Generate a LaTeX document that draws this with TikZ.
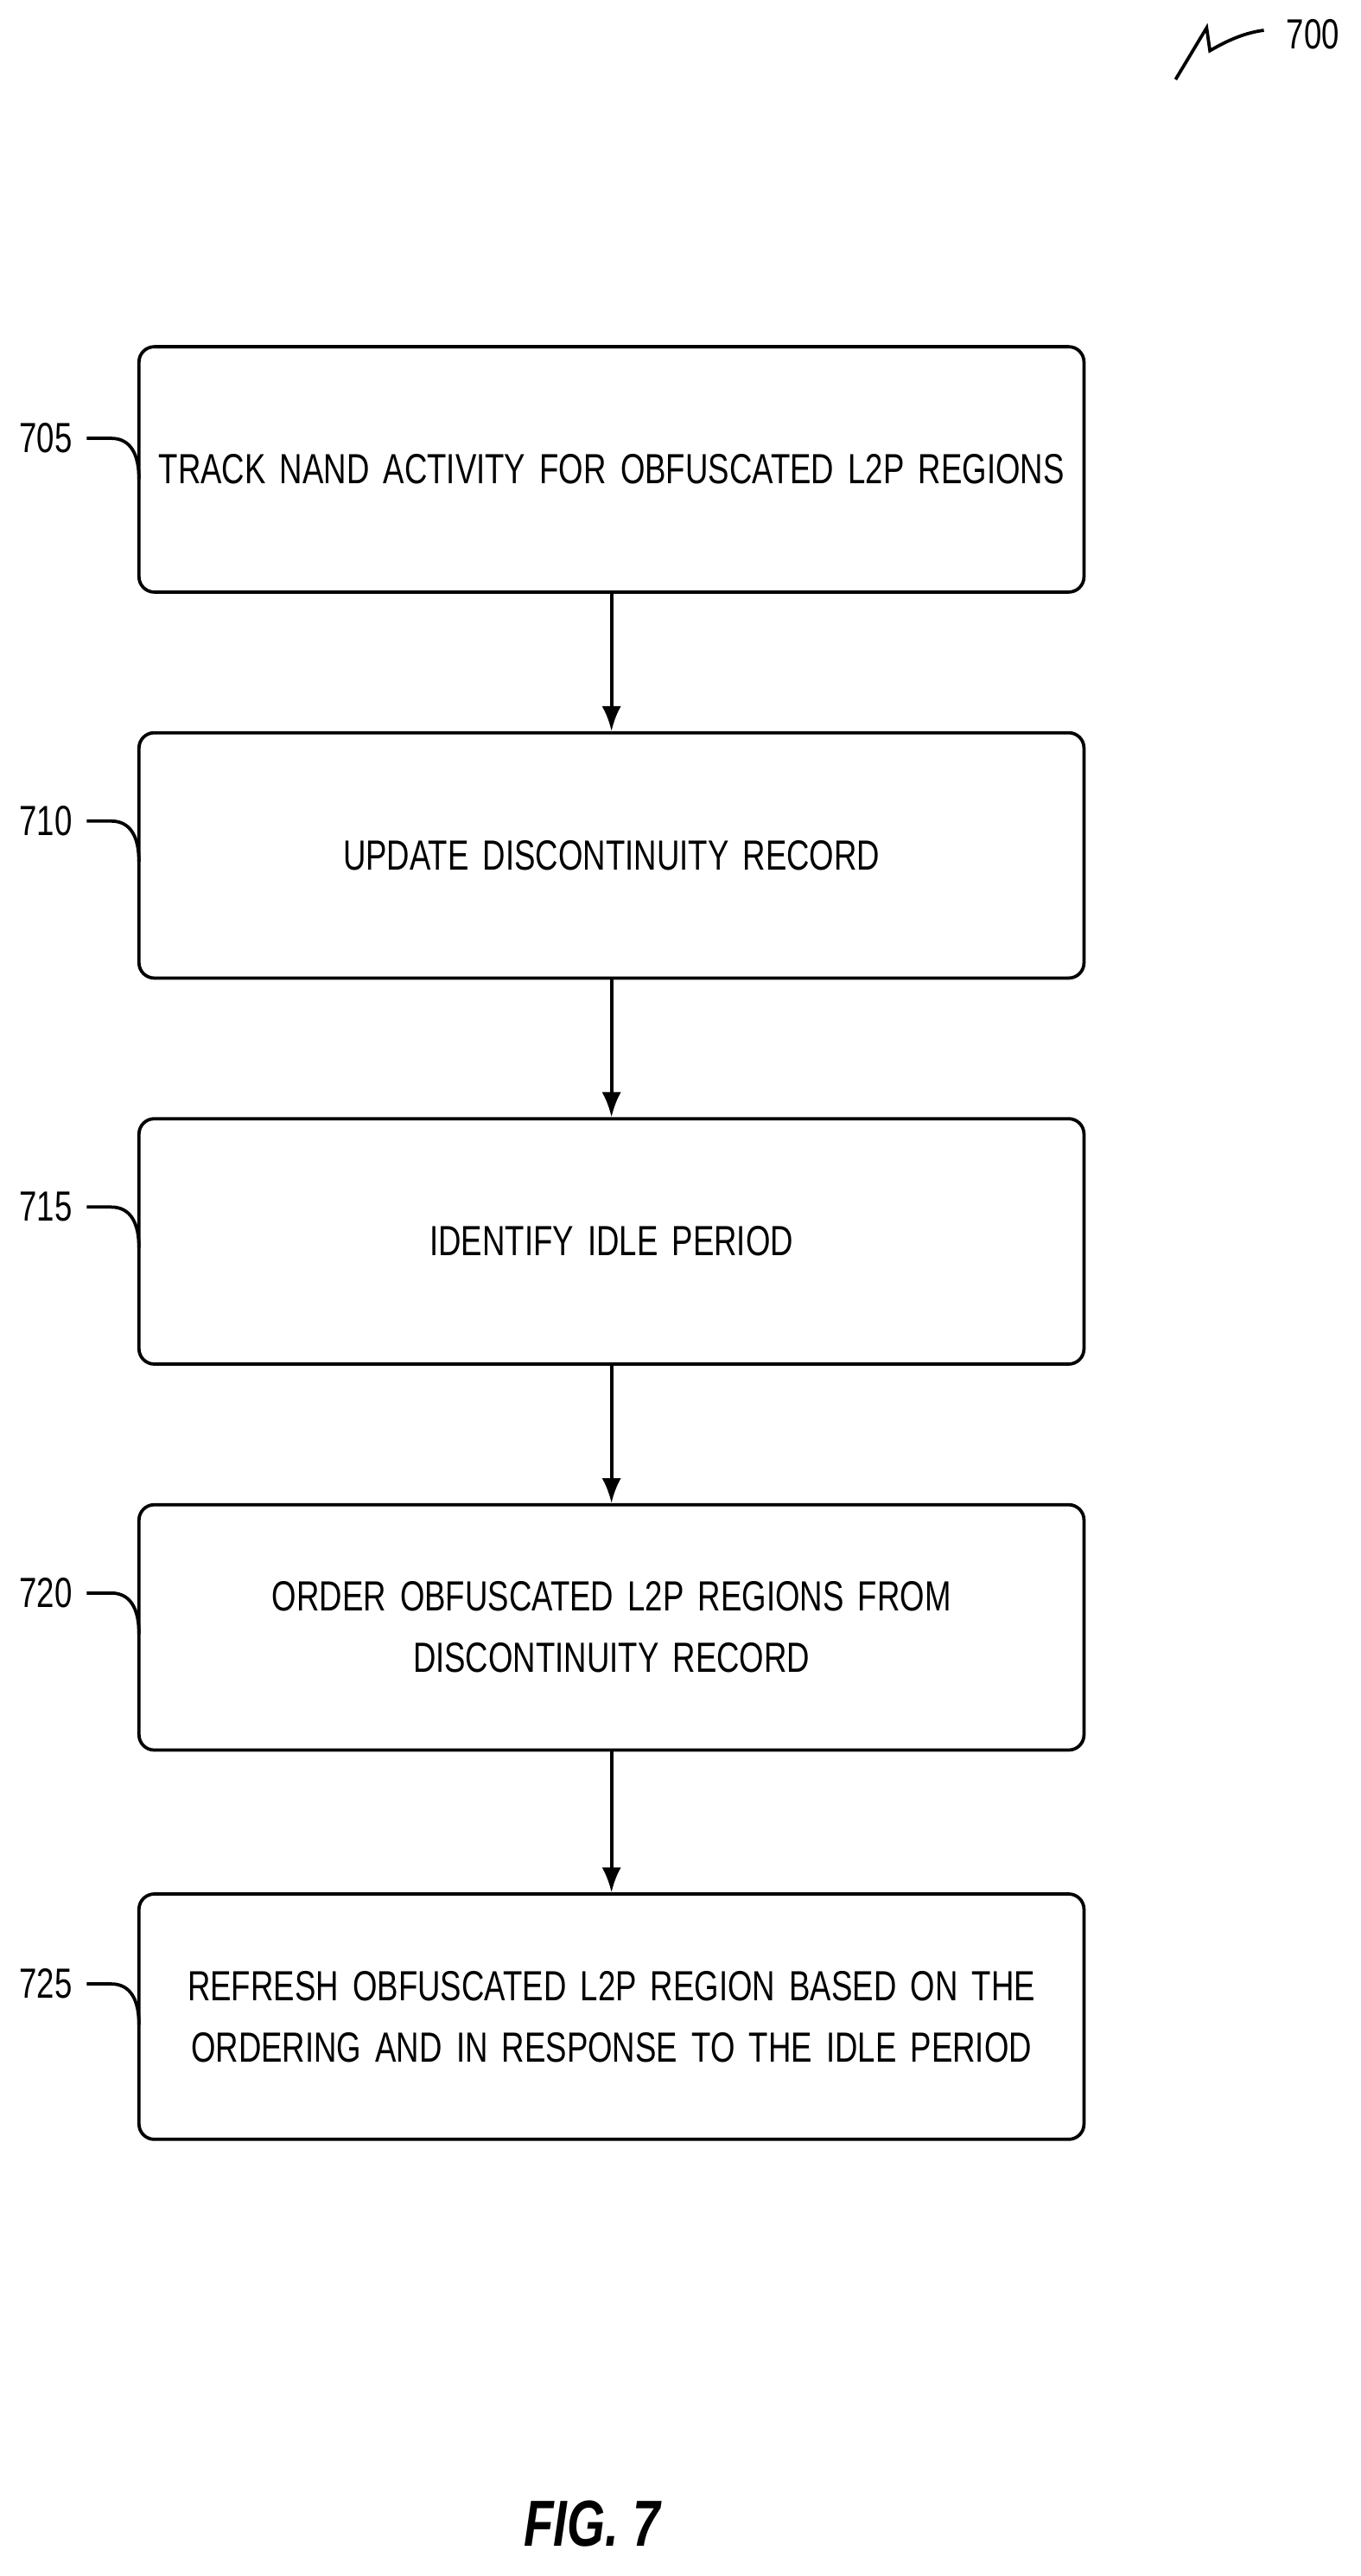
\documentclass[tikz,border=0pt]{standalone}
\usepackage{fontspec}
\setmainfont[FakeStretch=0.75]{Liberation Sans}
\usetikzlibrary{arrows.meta}

\tikzset{
  stepbox/.style={draw,line width=1.7pt,rounded corners=8pt,inner sep=0pt,text width=560*0.03cm,minimum width=578*0.03cm,minimum height=150*0.03cm,align=center,font=\fontsize{22}{32}\selectfont},
  flow/.style={line width=1.7pt,-{Latex[length=13pt,width=10pt]}},
  tag/.style={font=\fontsize{22}{26}\selectfont}
}

\begin{document}
\begin{tikzpicture}[x=0.03cm,y=-0.03cm]
\useasboundingbox (0,0) rectangle (832,1575);

% steps
\node[stepbox] (s705) at (374,287) {TRACK NAND ACTIVITY FOR OBFUSCATED L2P REGIONS};
\node[stepbox] (s710) at (374,523) {UPDATE DISCONTINUITY RECORD};
\node[stepbox] (s715) at (374,759) {IDENTIFY IDLE PERIOD};
\node[stepbox] (s720) at (374,995) {ORDER OBFUSCATED L2P REGIONS FROM\\DISCONTINUITY RECORD};
\node[stepbox] (s725) at (374,1233) {REFRESH OBFUSCATED L2P REGION BASED ON THE\\ORDERING AND IN RESPONSE TO THE IDLE PERIOD};

\draw[flow] (s705) -- (s710);
\draw[flow] (s710) -- (s715);
\draw[flow] (s715) -- (s720);
\draw[flow] (s720) -- (s725);

% reference labels
\foreach \n/\y in {705/268,710/502,715/738,720/974,725/1213}{
  \node[tag] (l\n) at (28,\y) {\n};
  \draw[line width=1.7pt] (53,\y) -- (68,\y) .. controls (80,\y) and (85,\y+10) .. (85,\y+25);
}

\node[tag] (l700) at (803,21) {700};
\draw[line width=1.7pt] (719,48.6) -- (738,17) -- (740,31) .. controls (752,24) and (762,20) .. (773,18.5);

\node[font=\bfseries\itshape\fontsize{34}{40}\selectfont] (fig) at (362,1543) {FIG. 7};
\end{tikzpicture}
\end{document}
